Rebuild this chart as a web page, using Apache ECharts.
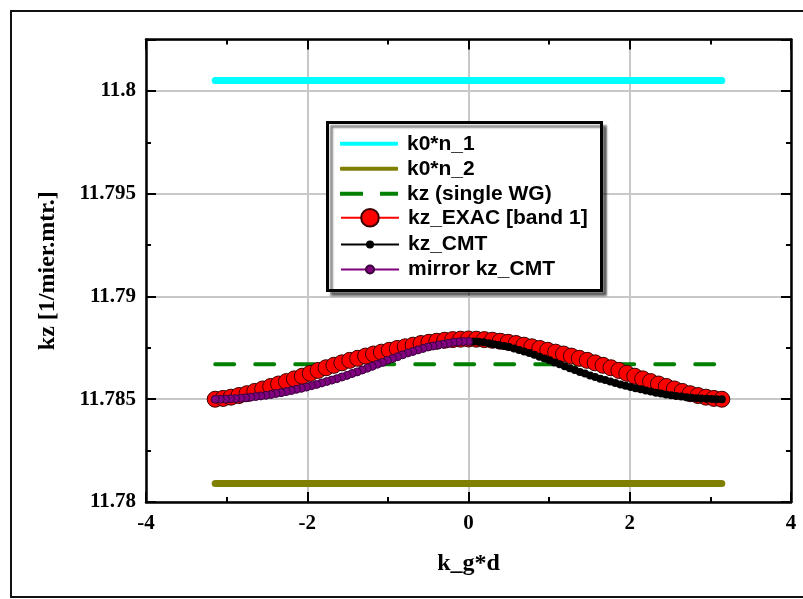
<!DOCTYPE html>
<html><head><meta charset="utf-8">
<script src="https://cdn.jsdelivr.net/npm/echarts/dist/echarts.min.js"></script>
<style>html,body{margin:0;padding:0;background:#fff}#c{width:803px;height:599px}</style>
</head><body><div id="c"></div>
<script>
// ---- data ----
const lineK = [-3.1416, 3.1416];
const n1Vals = [11.8005, 11.8005];
const n2Vals = [11.7809, 11.7809];
const singleWGVals = [11.7867, 11.7867];

const exacK = [-3.142, -3.043, -2.945, -2.847, -2.749, -2.651, -2.553, -2.454, -2.356, -2.258, -2.160, -2.062, -1.963, -1.865, -1.767, -1.669, -1.571, -1.473, -1.374, -1.276, -1.178, -1.080, -0.982, -0.884, -0.785, -0.687, -0.589, -0.491, -0.393, -0.295, -0.196, -0.098, 0, 0.098, 0.196, 0.295, 0.393, 0.491, 0.589, 0.687, 0.785, 0.884, 0.982, 1.080, 1.178, 1.276, 1.374, 1.473, 1.571, 1.669, 1.767, 1.865, 1.963, 2.062, 2.160, 2.258, 2.356, 2.454, 2.553, 2.651, 2.749, 2.847, 2.945, 3.043, 3.142];
const exacVals = [11.78500, 11.78504, 11.78510, 11.78518, 11.78527, 11.78538, 11.78550, 11.78562, 11.78574, 11.78586, 11.78599, 11.78612, 11.78626, 11.78640, 11.78653, 11.78665, 11.78677, 11.78689, 11.78699, 11.78710, 11.78720, 11.78729, 11.78738, 11.78747, 11.78755, 11.78763, 11.78771, 11.78777, 11.78782, 11.78787, 11.78790, 11.78792,
  11.78793,
  11.78792, 11.78790, 11.78787, 11.78782, 11.78777, 11.78771, 11.78763, 11.78755, 11.78747, 11.78738, 11.78729, 11.78720, 11.78710, 11.78699, 11.78689, 11.78677, 11.78665, 11.78653, 11.78640, 11.78626, 11.78612, 11.78599, 11.78586, 11.78574, 11.78562, 11.78550, 11.78538, 11.78527, 11.78518, 11.78510, 11.78504, 11.78500];

const cmtK = [0, 0.063, 0.126, 0.188, 0.251, 0.314, 0.377, 0.440, 0.503, 0.565, 0.628, 0.691, 0.754, 0.817, 0.880, 0.942, 1.005, 1.068, 1.131, 1.194, 1.257, 1.319, 1.382, 1.445, 1.508, 1.571, 1.634, 1.696, 1.759, 1.822, 1.885, 1.948, 2.011, 2.073, 2.136, 2.199, 2.262, 2.325, 2.388, 2.450, 2.513, 2.576, 2.639, 2.702, 2.765, 2.827, 2.890, 2.953, 3.016, 3.079, 3.142];
const cmtVals = [11.78781, 11.78781, 11.78779, 11.78777, 11.78772, 11.78768, 11.78764, 11.78759, 11.78754, 11.78747, 11.78740, 11.78732, 11.78725, 11.78716, 11.78707, 11.78698, 11.78689, 11.78679, 11.78670, 11.78660, 11.78651, 11.78642, 11.78633, 11.78625, 11.78616, 11.78608, 11.78600, 11.78593, 11.78586, 11.78579, 11.78572, 11.78566, 11.78559, 11.78553, 11.78548, 11.78542, 11.78537, 11.78532, 11.78528, 11.78523, 11.78519, 11.78516, 11.78513, 11.78510, 11.78507, 11.78505, 11.78503, 11.78502, 11.78501, 11.78500, 11.78500];
const mirrorK = cmtK.map(k => -k);
const mirrorVals = cmtVals.slice();

const seriesNames = ['k0*n_1', 'k0*n_2', 'kz (single WG)', 'kz_EXAC [band 1]', 'kz_CMT', 'mirror kz_CMT'];
const xLabel = 'k_g*d';
const yLabel = 'kz [1/mier.mtr.]';

// ---- chart ----
const zip = (xs, ys) => xs.map((x, i) => [x, ys[i]]);
const serif = 'Liberation Serif';
const sans = 'Liberation Sans';
const axLine = { show: true, onZero: false, lineStyle: { color: '#000', width: 2.5 } };
const axTick = { show: true, inside: true, length: 10, lineStyle: { color: '#000', width: 2 } };
const axMinor = { show: true, splitNumber: 2, length: 5, lineStyle: { color: '#000', width: 2 } };
const tickFont = { fontFamily: serif, fontWeight: 'bold', fontSize: 21, color: '#000' };
const nameFont = { fontFamily: serif, fontWeight: 'bold', fontSize: 24, color: '#000' };
const legendText = { fontFamily: sans, fontWeight: 'bold', fontSize: 21, color: '#000', lineHeight: 20, padding: [0, 0, 0, 4] };

function legendOf(name, top, h, extra) {
  return Object.assign({
    show: true, orient: 'vertical', left: 340, top: top, padding: 0,
    itemWidth: 58, itemHeight: h, itemGap: 0, selectedMode: false,
    textStyle: legendText, data: [name]
  }, extra || {});
}

const option = {
  animation: false,
  backgroundColor: '#fff',
  grid: { left: 146, right: 12, top: 39.5, bottom: 97, containLabel: false },
  xAxis: [
    { type: 'value', min: -4, max: 4, interval: 2, position: 'bottom',
      axisLine: axLine, axisTick: axTick, minorTick: axMinor,
      splitLine: { show: true, lineStyle: { color: '#c8c8c8', width: 2 } },
      axisLabel: Object.assign({ margin: 11 }, tickFont),
      name: xLabel, nameLocation: 'middle', nameGap: 50, nameTextStyle: nameFont },
    { type: 'value', min: -4, max: 4, interval: 2, position: 'top',
      axisLine: axLine, axisTick: axTick, minorTick: axMinor,
      splitLine: { show: false }, axisLabel: { show: false } }
  ],
  yAxis: [
    { type: 'value', min: 11.78, max: 11.8025, interval: 0.005, position: 'left',
      axisLine: axLine, axisTick: axTick, minorTick: axMinor,
      splitLine: { show: true, lineStyle: { color: '#c8c8c8', width: 2 } },
      axisLabel: Object.assign({ margin: 10, showMaxLabel: false }, tickFont),
      name: yLabel, nameLocation: 'middle', nameGap: 86, nameRotate: 90, nameTextStyle: nameFont },
    { type: 'value', min: 11.78, max: 11.8025, interval: 0.005, position: 'right',
      axisLine: axLine, axisTick: axTick, minorTick: axMinor,
      splitLine: { show: false }, axisLabel: { show: false } }
  ],
  legend: [
    legendOf({ name: seriesNames[0], icon: 'roundRect' }, 143.3 - 10, 4),
    legendOf({ name: seriesNames[1], icon: 'roundRect' }, 168.3 - 10, 4),
    legendOf({ name: seriesNames[2], icon: 'path://M0,0H23V4H0Z M40,0H58V4H40Z' }, 193.3 - 10, 4),
    legendOf(seriesNames[3], 218.3 - 11, 22),
    legendOf(seriesNames[4], 244 - 10, 10),
    legendOf(seriesNames[5], 269 - 10, 10)
  ],
  graphic: [
    { type: 'rect', silent: true, z: -10,
      shape: { x: 11, y: 11, width: 800, height: 586 },
      style: { fill: 'none', stroke: '#111', lineWidth: 2 } },
    { type: 'rect', silent: true, z: 3,
      shape: { x: 327.5, y: 122.5, width: 274, height: 168 },
      style: { fill: '#fff', stroke: '#000', lineWidth: 3,
               shadowColor: 'rgba(0,0,0,0.45)', shadowOffsetX: 4, shadowOffsetY: 4, shadowBlur: 2 } }
  ],
  series: [
    { name: seriesNames[0], type: 'line', data: zip(lineK, n1Vals), symbol: 'none', silent: true,
      itemStyle: { color: '#00ffff' }, lineStyle: { color: '#00ffff', width: 7, cap: 'round' } },
    { name: seriesNames[1], type: 'line', data: zip(lineK, n2Vals), symbol: 'none', silent: true,
      itemStyle: { color: '#808000' }, lineStyle: { color: '#808000', width: 7, cap: 'round' } },
    { name: seriesNames[2], type: 'line', data: zip(lineK, singleWGVals), symbol: 'none', silent: true,
      itemStyle: { color: '#008000' }, lineStyle: { color: '#008000', width: 4, type: [19, 21], cap: 'round' } },
    { name: seriesNames[3], type: 'line', data: zip(exacK, exacVals), symbol: 'circle', symbolSize: 16, silent: true,
      itemStyle: { color: '#ff0000', borderColor: '#3a0000', borderWidth: 1 },
      lineStyle: { color: '#ff0000', width: 3.5 } },
    { name: seriesNames[4], type: 'line', data: zip(cmtK, cmtVals), symbol: 'circle', symbolSize: 8, silent: true,
      itemStyle: { color: '#000000' }, lineStyle: { color: '#000000', width: 4 } },
    { name: seriesNames[5], type: 'line', data: zip(mirrorK, mirrorVals), symbol: 'circle', symbolSize: 8, silent: true,
      itemStyle: { color: '#800080', borderColor: '#3a003a', borderWidth: 1 },
      lineStyle: { color: '#800080', width: 4 } }
  ]
};
const chart = echarts.init(document.getElementById('c'), null, { renderer: 'canvas' });
chart.setOption(option);
</script>
</body></html>
